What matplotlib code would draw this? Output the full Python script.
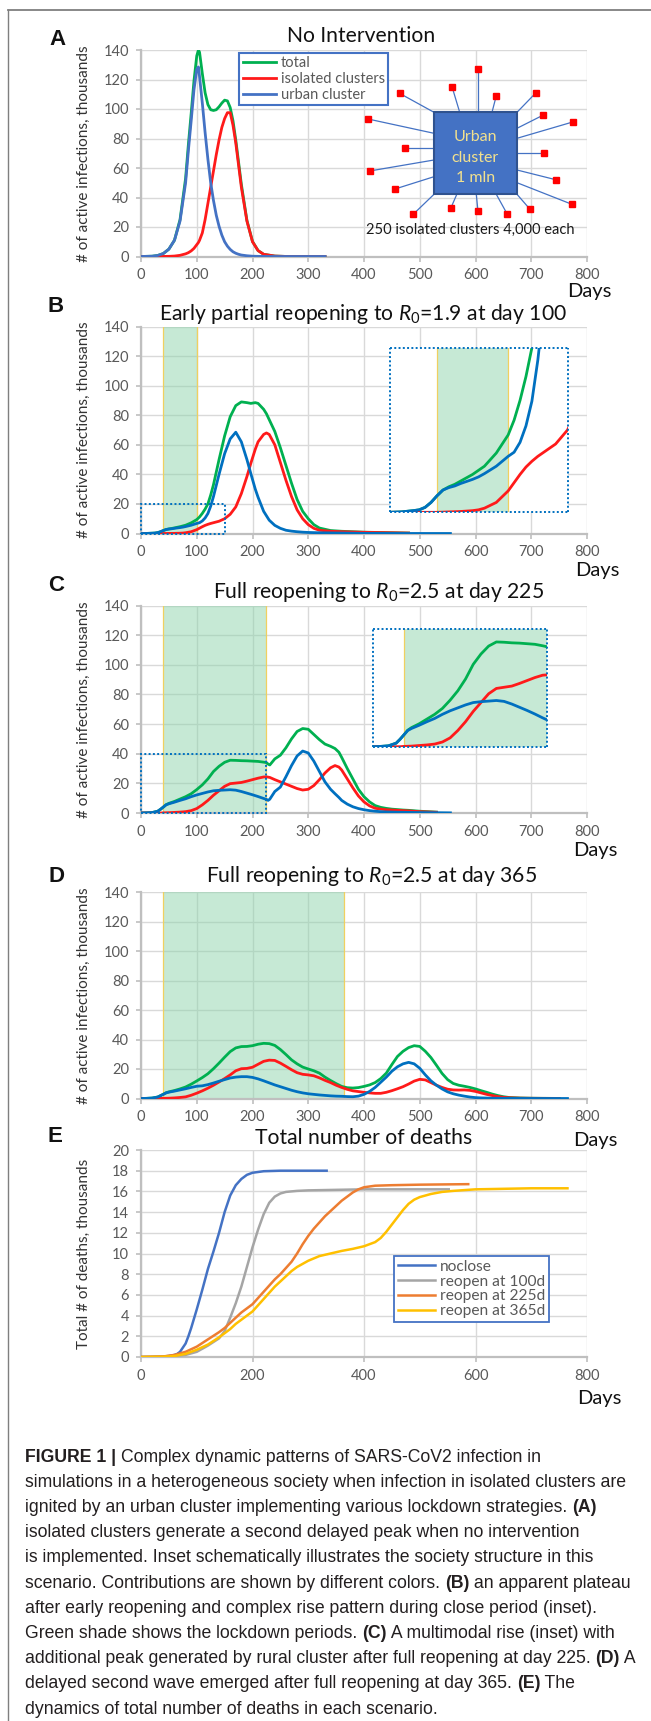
import numpy as np
import matplotlib
matplotlib.use('Agg')
import matplotlib.pyplot as plt
from matplotlib.patches import Rectangle
from matplotlib.lines import Line2D

plt.rcParams['font.family'] = ['Lato', 'DejaVu Sans']
plt.rcParams['mathtext.fontset'] = 'custom'
plt.rcParams['mathtext.rm'] = 'Lato'
plt.rcParams['mathtext.it'] = 'Lato:italic'
plt.rcParams['mathtext.bf'] = 'Lato:bold'

nan = np.nan

# ---------------- DATA ----------------
# Panel A: no intervention
days_A = [0, 20, 30, 40, 50, 60, 70, 80, 85, 90, 95, 100, 103, 105, 110, 115, 120, 125, 130, 135,
          140, 145, 150, 155, 160, 165, 170, 175, 180, 190, 200, 210, 220, 240, 260, 300, 330]
A_total = [0, 0.2, 0.7, 2, 5, 11, 25, 53, 76, 97, 119, 136, 140, 138.5, 124, 111, 103, 99.5, 99, 99.5,
           101.5, 104, 106, 105.5, 101, 92, 79, 64, 49, 24.5, 10.2, 4, 1.5, 0.3, 0.05, 0, 0]
A_isolated = [0, 0, 0, 0.05, 0.1, 0.3, 0.8, 1.8, 2.6, 3.8, 5.5, 8, 9.5, 11, 16, 25, 36, 47, 58, 69,
              79, 87.5, 93.5, 97.5, 97.5, 89, 77, 62, 47, 24, 10, 4, 1.5, 0.3, 0.05, 0, 0]
A_urban = [0, 0.2, 0.7, 2, 5, 11, 24, 50, 72, 92, 113, 127, 128.5, 122, 104, 84, 66, 50, 38, 28,
           20.5, 14.5, 10, 7, 4.8, 3.2, 2.2, 1.5, 1, 0.5, 0.2, 0.1, 0.05, 0, 0, 0, 0]

# Panel B: early partial reopening (lockdown day 40-100)
days_B = [0, 10, 20, 25, 30, 35, 40, 45, 50, 55, 60, 70, 75, 80, 90, 100, 105, 110, 115, 120, 125,
          130, 140, 150, 160, 170, 180, 190, 197, 205, 210, 220, 225, 230, 240, 250, 260, 270, 280,
          290, 300, 310, 320, 340, 360, 400, 450, 480, 555]
B_total = [0, 0.05, 0.2, 0.3, 0.6, 1.2, 2, 2.7, 3.1, 3.4, 3.8, 4.6, 5.1, 5.6, 7.2, 9.4, 11.2, 13.6,
           16.5, 20, 26, 33, 50, 66, 79, 86.5, 89, 88.5, 88, 88.5, 88, 84, 81, 77, 69, 58, 46, 34, 23,
           15, 10, 6, 3.7, 2, 1.5, 0.9, 0.5, 0.3, nan]
B_isolated = [0, 0, 0, 0, 0, 0, 0, 0.02, 0.05, 0.07, 0.1, 0.2, 0.3, 0.5, 1.2, 2.6, 3.6, 4.6, 5.5,
              6.2, 6.8, 7.3, 8.3, 10, 13, 18, 27, 38.5, 47.5, 57, 62, 67, 68, 67, 60, 48, 36, 25, 16,
              10, 6, 3.5, 2.2, 1.5, 1.2, 0.8, 0.5, 0.3, nan]
B_urban = [0, 0.05, 0.2, 0.3, 0.6, 1.2, 2, 2.7, 3, 3.2, 3.5, 4, 4.3, 4.7, 5.6, 6.8, 7.3, 8.5, 10.5,
           13.5, 18.5, 25, 40, 54, 64, 68.5, 62, 50, 40.5, 30, 24.5, 15, 12, 9, 5.5, 3.5, 2.2, 1.6,
           1.2, 0.9, 0.7, 0.6, 0.5, 0.4, 0.3, 0.1, 0.05, 0.02, 0]

# Panel C: full reopening at day 225 (lockdown day 40-225)
days_C = [0, 10, 20, 30, 35, 40, 45, 50, 60, 70, 80, 90, 100, 110, 120, 130, 140, 150, 160, 170,
          180, 190, 200, 210, 220, 225, 228, 231, 240, 250, 260, 270, 280, 290, 300, 310, 320, 330,
          340, 348, 355, 360, 370, 380, 390, 400, 410, 420, 430, 440, 450, 460, 470, 480, 500, 530, 555]
C_total = [0, 0.1, 0.3, 1.2, 2.5, 4, 5.6, 6.5, 7.8, 9.4, 11, 13, 15.8, 19, 23, 28, 31.5, 34.2, 35.6,
           35.5, 35.3, 35.2, 35, 34.8, 34.3, 34, 33, 32.4, 36.5, 39, 44, 50, 55, 57, 56.5, 53, 49.5,
           46.5, 45, 43.5, 41, 37.5, 30, 23, 16, 11, 7.5, 5, 3.8, 3.1, 2.6, 2.3, 2, 1.8, 1.2, 0.6, nan]
C_isolated = [0, 0, 0, 0, 0, 0.1, 0.15, 0.2, 0.4, 0.6, 0.9, 1.6, 3, 5.5, 8.5, 12, 15, 18, 19.8,
              20.2, 20.6, 21.5, 22.5, 23.5, 24.3, 24.4, 24.2, 24, 22.5, 21, 19.5, 18, 16.5, 15.5, 16,
              18.5, 22.5, 27, 30.5, 32, 31, 29, 23, 17, 11.5, 7.5, 4.8, 3.2, 2.6, 2.2, 2, 1.8, 1.6,
              1.4, 0.9, 0.5, nan]
C_urban = [0, 0.1, 0.3, 1.2, 2.5, 4, 5.5, 6.2, 7.3, 8.5, 9.6, 11, 12.2, 13.2, 14.2, 15, 15.3, 15.5,
           15.7, 15.4, 14.5, 13.4, 12.3, 11.1, 9.8, 9.2, 8.5, 9.3, 14.5, 17.5, 24.5, 32, 38.5, 41.8,
           40.5, 35, 28, 21, 16, 13, 10.5, 8.5, 6, 4.2, 3, 2.2, 1.6, 1.2, 0.9, 0.7, 0.6, 0.5, 0.45,
           0.4, 0.3, 0.2, 0.1]

# Panel D: full reopening at day 365 (lockdown day 40-365)
days_D = [0, 10, 20, 30, 40, 45, 50, 60, 70, 80, 90, 100, 110, 120, 130, 140, 150, 160, 170, 180,
          190, 200, 210, 220, 230, 240, 250, 260, 270, 280, 290, 300, 310, 320, 330, 340, 350, 360,
          370, 380, 390, 400, 410, 420, 430, 440, 450, 460, 470, 480, 490, 500, 510, 520, 530, 540,
          550, 560, 570, 580, 590, 600, 610, 620, 630, 640, 650, 660, 680, 700, 720, 750, 765]
D_total = [0, 0.1, 0.3, 1, 2.9, 3.9, 4.5, 5.4, 6.5, 7.8, 9.7, 11.9, 14.2, 16.8, 20.2, 24, 28, 31.8,
           34.3, 35.2, 35.3, 35.8, 36.8, 37.4, 37.2, 36, 33.2, 29.8, 26.2, 23.5, 21.3, 20, 18.8,
           17.2, 14.5, 12.2, 10.1, 8.2, 7.3, 7.1, 7.4, 8.2, 9.2, 10.8, 13.5, 17.2, 23, 28.5, 32,
           34.5, 35.8, 35.3, 32, 27.8, 22.5, 17, 12.8, 10.2, 9, 8.3, 7.5, 6.5, 5.3, 4.2, 3, 2, 1.2,
           0.7, 0.35, 0.2, 0.12, 0.06, nan]
D_isolated = [0, 0, 0, 0, 0.1, 0.15, 0.2, 0.4, 0.7, 1.1, 2.2, 3.6, 5.2, 7, 9, 11.2, 13.5, 16, 18.8,
              20.2, 20.4, 21.2, 23.2, 25.2, 26, 25.8, 24, 21.8, 19.5, 17.5, 16.4, 16, 15.4, 14,
              12.3, 10.8, 9, 7.5, 6.2, 5.2, 4.7, 4.2, 3.8, 3.5, 3.5, 4.2, 5.3, 6.6, 8, 9.8, 11.8,
              13, 12.6, 10.8, 9, 7.5, 6.3, 5.8, 5.7, 5.8, 5.5, 4.8, 3.8, 2.8, 2, 1.3, 0.8, 0.5,
              0.25, 0.15, 0.1, 0.05, nan]
D_urban = [0, 0.1, 0.3, 1, 2.8, 3.8, 4.3, 5, 5.8, 6.6, 7.5, 8.3, 8.6, 9.4, 10.5, 11.7, 12.8, 13.9,
           14.5, 14.8, 14.8, 14.3, 13.3, 12, 10.6, 9.2, 8, 6.8, 5.6, 4.6, 3.8, 3.2, 2.8, 2.4, 2.1,
           1.8, 1.6, 1.5, 1.3, 1.2, 1.6, 2.8, 4.8, 7.5, 11, 14.5, 18.5, 21.5, 23.5, 24.5, 23.5,
           20.5, 16, 12, 9, 6.5, 4.5, 3.2, 2.3, 1.6, 1, 0.6, 0.4, 0.3, 0.2, 0.15, 0.1, 0.08, 0.05,
           0.03, 0.02, 0.01, 0]

lockdown_B = (40, 100)
lockdown_C = (40, 225)
lockdown_D = (40, 365)
zoom_B = (150, 20)
zoom_C = (225, 40)

# Panel E: total deaths (thousands)
E_days_noclose = [0, 20, 40, 50, 60, 65, 70, 75, 80, 85, 90, 100, 110, 120, 130, 140, 150, 160,
                  170, 180, 190, 200, 220, 250, 333]
E_noclose = [0, 0, 0.05, 0.1, 0.2, 0.3, 0.5, 0.9, 1.3, 2, 2.8, 4.6, 6.5, 8.5, 10.2, 12, 14, 15.6,
             16.6, 17.2, 17.6, 17.8, 17.95, 18, 18]
E_days_100 = [0, 50, 80, 100, 120, 140, 150, 160, 170, 180, 190, 200, 210, 220, 230, 240, 250, 260,
              280, 300, 350, 400, 552]
E_100 = [0, 0.05, 0.2, 0.5, 1.1, 1.8, 2.5, 3.8, 5.2, 6.8, 8.7, 10.6, 12.3, 13.8, 14.9, 15.5, 15.8,
         15.95, 16.05, 16.1, 16.15, 16.2, 16.2]
E_days_225 = [0, 40, 60, 80, 100, 120, 140, 150, 160, 170, 180, 190, 200, 210, 220, 230, 240, 250,
              260, 270, 280, 290, 300, 310, 320, 330, 340, 350, 360, 370, 380, 390, 400, 420, 450,
              500, 587]
E_225 = [0, 0.05, 0.2, 0.5, 1, 1.7, 2.4, 2.8, 3.3, 3.8, 4.3, 4.7, 5.1, 5.7, 6.3, 6.9, 7.5, 8.0, 8.6,
         9.2, 10, 10.9, 11.7, 12.4, 13, 13.6, 14.1, 14.6, 15.1, 15.5, 15.9, 16.2, 16.4, 16.55, 16.6,
         16.65, 16.7]
E_days_365 = [0, 40, 60, 80, 100, 120, 140, 150, 160, 170, 180, 190, 200, 210, 220, 230, 240, 250,
              260, 270, 280, 290, 300, 320, 340, 360, 380, 400, 420, 430, 440, 450, 460, 470, 480,
              490, 500, 520, 540, 560, 600, 650, 700, 765]
E_365 = [0, 0.03, 0.1, 0.3, 0.7, 1.2, 1.9, 2.3, 2.7, 3.2, 3.6, 4.0, 4.4, 5.0, 5.6, 6.2, 6.8, 7.3,
         7.8, 8.3, 8.7, 9.0, 9.3, 9.75, 10.0, 10.25, 10.45, 10.7, 11.1, 11.5, 12.1, 12.8, 13.5,
         14.2, 14.8, 15.2, 15.45, 15.75, 15.95, 16.05, 16.2, 16.25, 16.3, 16.3]
E_labels = ['noclose', 'reopen at 100d', 'reopen at 225d', 'reopen at 365d']
series_labels = ['total', 'isolated clusters', 'urban cluster']

# schematic of panel A inset (schematic units)
node_x = [368, 399.5, 452.2, 477.6, 496.3, 535.7, 542.8, 572.7, 544.4, 555.7, 571.9, 529.5, 507,
          478, 451, 413.2, 395, 369.6, 405.3]
node_y = [119, 93.3, 87.3, 68.7, 95.7, 93, 115.3, 122, 153, 179.7, 204.3, 208.7, 213.7, 211.3,
          207.7, 214.3, 189, 171, 148]
link_x = [434, 434, 459.7, 477.6, 492, 517, 517, 517, 517, 517, 517, 517, 496.3, 476.3, 456.8,
          434, 434, 434, 434]
link_y = [133.3, 112.3, 112.3, 112.3, 112.3, 112.3, 128.3, 138.3, 153, 170, 182.7, 194.3, 194.3,
          194.3, 194.3, 194.3, 176.7, 160, 148]

caption = [
    [("FIGURE 1 | ", True), ("Complex dynamic patterns of SARS-CoV2 infection in", False)],
    [("simulations in a heterogeneous society when infection in isolated clusters are", False)],
    [("ignited by an urban cluster implementing various lockdown strategies. ", False), ("(A)", True)],
    [("isolated clusters generate a second delayed peak when no intervention", False)],
    [("is implemented. Inset schematically illustrates the society structure in this", False)],
    [("scenario. Contributions are shown by different colors. ", False), ("(B)", True),
     (" an apparent plateau", False)],
    [("after early reopening and complex rise pattern during close period (inset).", False)],
    [("Green shade shows the lockdown periods. ", False), ("(C)", True),
     (" A multimodal rise (inset) with", False)],
    [("additional peak generated by rural cluster after full reopening at day 225. ", False),
     ("(D)", True), (" A", False)],
    [("delayed second wave emerged after full reopening at day 365. ", False), ("(E)", True),
     (" The", False)],
    [("dynamics of total number of deaths in each scenario.", False)],
]

# ---------------- STYLE ----------------
W, H = 651, 1721
GRID = '#d9d9d9'
AXC = '#bfbfbf'
TICKC = '#595959'
GREEN = '#00b050'
RED = '#ff1a1a'
BLUE_A = '#4472c4'
BLUE = '#0070c0'
SHADE = '#8fd4ac'
SHADE_EDGE = '#f0d060'
DOT = '#0070c0'
DOTSTYLE = (0, (1.0, 1.2))
E_colors = ['#4472c4', '#a5a5a5', '#ed7d31', '#ffc000']
LW = 2.0

fig = plt.figure(figsize=(W / 100, H / 100), dpi=100)


def rect(l, t, r, b):
    return [l / W, 1 - b / H, (r - l) / W, (b - t) / H]


def fx(x):
    return x / W


def fy(y):
    return 1 - y / H


def style(ax, xticks, yticks):
    ax.set_xlim(0, 800)
    ax.set_ylim(yticks[0], yticks[-1])
    ax.set_xticks(xticks)
    ax.set_yticks(yticks)
    ax.grid(True, color=GRID, lw=1.0)
    ax.set_axisbelow(True)
    for s in ['top', 'right']:
        ax.spines[s].set_visible(False)
    for s in ['left', 'bottom']:
        ax.spines[s].set_color(AXC)
        ax.spines[s].set_linewidth(1.6)
    ax.tick_params(length=3.5, width=1.2, color=AXC, labelcolor=TICKC, labelsize=10.5, pad=5)


def shade(ax, rng):
    ax.axvspan(rng[0], rng[1], color=SHADE, alpha=0.5, lw=0, zorder=1)
    for xv in rng:
        ax.axvline(xv, color=SHADE_EDGE, lw=0.9, zorder=1.2)


def plot3(ax, d, tot, iso, urb, blue):
    ax.plot(d, tot, color=GREEN, lw=LW, zorder=3, label=series_labels[0])
    ax.plot(d, iso, color=RED, lw=LW, zorder=3, label=series_labels[1])
    ax.plot(d, urb, color=blue, lw=LW, zorder=3, label=series_labels[2])


def inset(l, t, r, b, zr, rng, d, tot, iso, urb):
    ai = fig.add_axes(rect(l, t, r, b))
    ai.set_xlim(0, zr[0])
    ai.set_ylim(0, zr[1])
    ai.set_xticks([])
    ai.set_yticks([])
    ai.set_facecolor('white')
    for s in ai.spines.values():
        s.set_linestyle(DOTSTYLE)
        s.set_capstyle('butt')
        s.set_color(DOT)
        s.set_linewidth(1.4)
        s.set_zorder(5)
    ai.axvspan(rng[0], min(rng[1], zr[0]), color=SHADE, alpha=0.5, lw=0, zorder=1)
    ai.axvline(rng[0], color=SHADE_EDGE, lw=0.9, zorder=1.2)
    if rng[1] < zr[0]:
        ai.axvline(rng[1], color=SHADE_EDGE, lw=0.9, zorder=1.2)
    plot3(ai, d, tot, iso, urb, BLUE)
    return ai


def zoombox(ax, zr):
    ax.add_patch(Rectangle((0, 0), zr[0], zr[1], fill=False, ec=DOT, ls=DOTSTYLE, lw=1.4,
                           capstyle='butt', zorder=4, clip_on=False))


yt = list(range(0, 141, 20))
xt = list(range(0, 801, 100))

# Panel A
axA = fig.add_axes(rect(141, 50, 587, 256.5))
style(axA, xt, yt)
plot3(axA, days_A, A_total, A_isolated, A_urban, BLUE_A)
leg = axA.legend(loc='upper left', bbox_to_anchor=(0.2197, 0.987), frameon=True, fancybox=False,
                 edgecolor='#4472c4', framealpha=1, fontsize=10.5, handlelength=2.3,
                 handletextpad=0.3, labelspacing=0.12, borderpad=0.25, borderaxespad=0)
leg.get_frame().set_linewidth(1.5)
for t in leg.get_texts():
    t.set_color(TICKC)

# schematic
axS = fig.add_axes(rect(350, 60, 590, 240))
axS.set_xlim(350, 590)
axS.set_ylim(240, 60)
axS.axis('off')
for nx, ny, lx, ly in zip(node_x, node_y, link_x, link_y):
    axS.plot([nx, lx], [ny, ly], color=BLUE_A, lw=0.9, zorder=1)
axS.add_patch(Rectangle((434, 112.3), 83, 82, fc='#4472c4', ec='#2f528f', lw=1.5, zorder=2))
axS.plot(node_x, node_y, ls='none', marker='s', ms=4.5, color='#ff0000', zorder=3)
for txt, yy in zip(['Urban', 'cluster', '1 mln'], [137, 157.5, 177.7]):
    axS.text(475.5, yy, txt, color='#f2e18e', fontsize=11.5, ha='center', va='center', zorder=4)
axS.text(470, 230, '250 isolated clusters 4,000 each', fontsize=10.5, ha='center', va='center',
         color='#1a1a1a')

# Panel B
axB = fig.add_axes(rect(141, 326.5, 587, 533.5))
style(axB, xt, yt)
shade(axB, lockdown_B)
plot3(axB, days_B, B_total, B_isolated, B_urban, BLUE)
zoombox(axB, zoom_B)
inset(389.5, 347.7, 567.5, 512.3, zoom_B, lockdown_B, days_B, B_total, B_isolated, B_urban)

# Panel C
axC = fig.add_axes(rect(141, 605.5, 587, 813))
style(axC, xt, yt)
shade(axC, lockdown_C)
plot3(axC, days_C, C_total, C_isolated, C_urban, BLUE)
zoombox(axC, zoom_C)
inset(373, 629, 546.5, 746.7, zoom_C, lockdown_C, days_C, C_total, C_isolated, C_urban)

# Panel D
axD = fig.add_axes(rect(141, 892, 587, 1098.5))
style(axD, xt, yt)
shade(axD, lockdown_D)
plot3(axD, days_D, D_total, D_isolated, D_urban, BLUE)

# Panel E
axE = fig.add_axes(rect(141, 1150, 587, 1357))
style(axE, list(range(0, 801, 200)), list(range(0, 21, 2)))
for dd, vv, c, lab in zip([E_days_noclose, E_days_100, E_days_225, E_days_365],
                          [E_noclose, E_100, E_225, E_365], E_colors, E_labels):
    axE.plot(dd, vv, color=c, lw=1.8, label=lab, zorder=3)
legE = axE.legend(loc='upper left', bbox_to_anchor=(0.5666, 0.488), frameon=True, fancybox=False,
                  edgecolor='#4472c4', framealpha=1, fontsize=11.2, handlelength=2.4,
                  handletextpad=0.3, labelspacing=0.05, borderpad=0.25, borderaxespad=0)
legE.get_frame().set_linewidth(1.3)
for t in legE.get_texts():
    t.set_color(TICKC)

# titles, labels
titles = [("No Intervention", 361, 41.7),
          (r"Early partial reopening to $\mathit{R_0}$=1.9 at day 100", 363, 319.5),
          (r"Full reopening to $\mathit{R_0}$=2.5 at day 225", 378.5, 597.5),
          (r"Full reopening to $\mathit{R_0}$=2.5 at day 365", 372, 882.5),
          ("Total number of deaths", 363.5, 1144)]
for s, x, y in titles:
    fig.text(fx(x), fy(y), s, fontsize=15.2, ha='center', va='baseline', color='#111111')

for x, y in [(589.3, 297.5), (597.5, 576), (595.3, 856), (595.3, 1146), (599, 1404)]:
    fig.text(fx(x), fy(y), 'Days', fontsize=14.5, ha='center', va='baseline', color='#111111')

for s, x, y in [('A', 57, 44.8), ('B', 56, 311.7), ('C', 56, 591), ('D', 56, 881.7), ('E', 55, 1141.5)]:
    fig.text(fx(x), fy(y), s, fontsize=16, fontweight='bold', ha='center', va='baseline',
             family=['Liberation Sans', 'DejaVu Sans'], color='#111111')

for top, bot in [(50, 256.5), (326.5, 533.5), (605.5, 813), (892, 1098.5)]:
    fig.text(fx(84), fy((top + bot) / 2), '# of active infections, thousands', rotation=90,
             fontsize=11, ha='center', va='center', color='#333333')
fig.text(fx(84), fy(1253.5), 'Total # of deaths, thousands', rotation=90, fontsize=11,
         ha='center', va='center', color='#333333')

# frame lines
fig.add_artist(Line2D([fx(8), 1], [fy(10), fy(10)], color='#7f7f7f', lw=1.3,
                      transform=fig.transFigure))
fig.add_artist(Line2D([fx(8), fx(8)], [fy(10), 0], color='#7f7f7f', lw=1.0,
                      transform=fig.transFigure))

# caption
CAPF = ['Liberation Sans Narrow', 'Liberation Sans', 'DejaVu Sans']
renderer = fig.canvas.get_renderer()


def text_w(s, bold, size):
    t1 = fig.text(0, 0, s + '|', family=CAPF, fontweight='bold' if bold else 'normal', fontsize=size)
    w1 = t1.get_window_extent(renderer).width
    t1.remove()
    t2 = fig.text(0, 0, '|', family=CAPF, fontweight='bold' if bold else 'normal', fontsize=size)
    w2 = t2.get_window_extent(renderer).width
    t2.remove()
    return w1 - w2


ref_w = text_w(caption[1][0][0], False, 12.0)
cap_size = 12.0 * 602.0 / ref_w
for k, parts in enumerate(caption):
    x = 25.0
    yb = 1461.5 + 25.2 * k
    for s, bold in parts:
        fig.text(fx(x), fy(yb), s, family=CAPF, fontweight='bold' if bold else 'normal',
                 fontsize=cap_size, ha='left', va='baseline', color='#231f20')
        x += text_w(s, bold, cap_size)

fig.savefig('out.png', dpi=100)
